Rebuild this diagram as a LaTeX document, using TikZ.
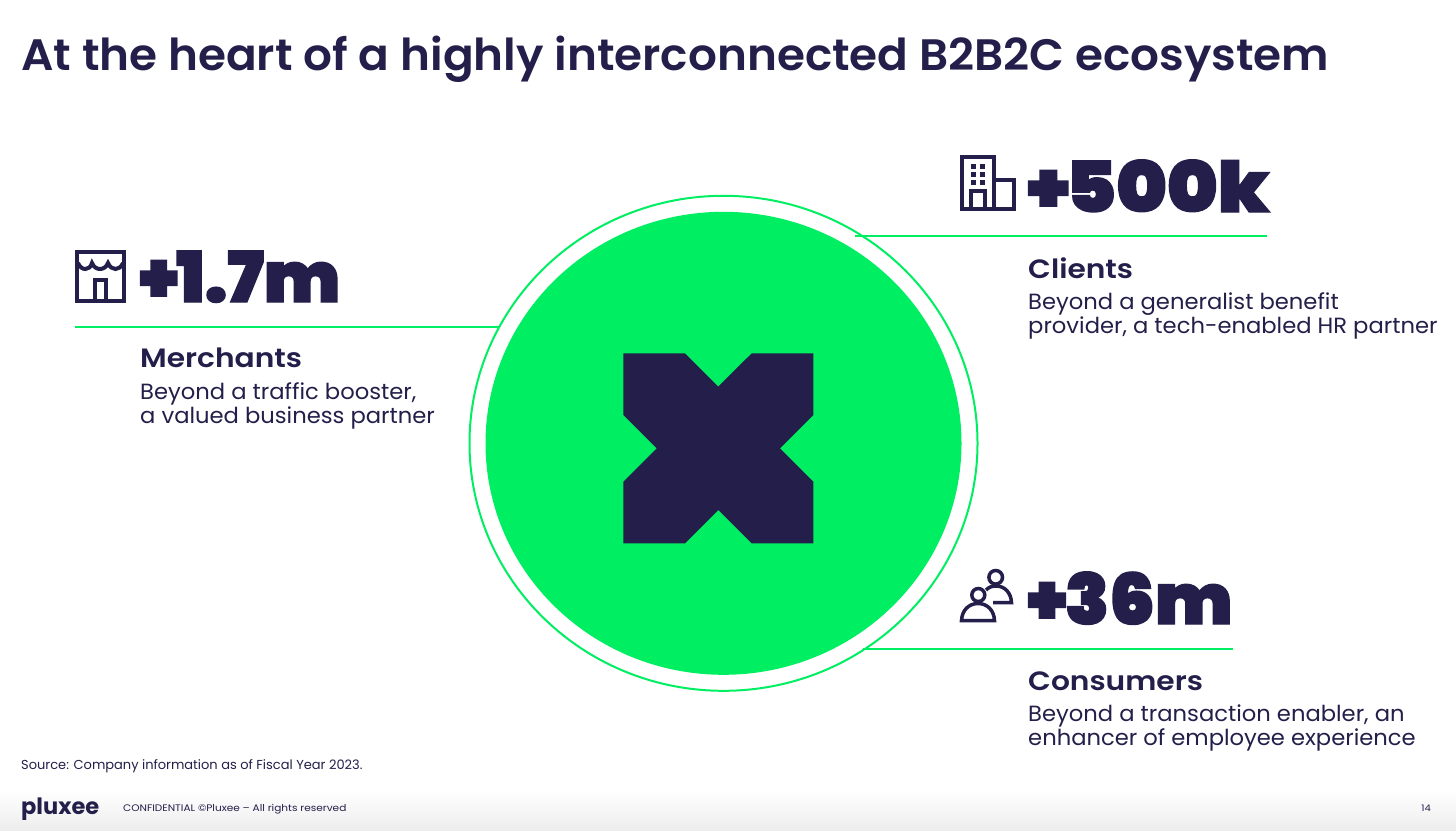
\documentclass[tikz,border=0pt]{standalone}
\usepackage{fontspec}
\setmainfont{Poppins}
\newfontfamily\pop[FakeStretch=1.03]{Poppins}
\newfontfamily\popsrc[FakeStretch=1.0]{Poppins}
\newfontfamily\popconf[FakeStretch=1.11]{Poppins}
\newfontfamily\poptitle[FakeStretch=1.03]{Poppins SemiBold}
\newfontfamily\pophead[FakeStretch=1.12]{Poppins SemiBold}
\newfontfamily\poplogo{Poppins}
\newfontfamily\bigf[FakeBold=2]{Poppins Black}
\definecolor{navy}{HTML}{231F4A}
\definecolor{grn}{HTML}{00EF62}
\tikzset{x=1pt,y=-1pt,
 lbl/.style={anchor=base west,inner sep=0pt,text=navy,font=\pop\fontsize{22}{26}\selectfont,align=left},
 head/.style={anchor=base west,inner sep=0pt,text=navy,font=\pophead\fontsize{26.5}{30}\selectfont},
 num/.style={anchor=base west,inner sep=0pt,text=navy,font=\bigf\fontsize{70}{74}\selectfont},
 rule/.style={draw=grn,line width=2pt},
 ico/.style={draw=navy,line width=4pt}}
\begin{document}
\begin{tikzpicture}
\useasboundingbox (0,0) rectangle (1456,830);
\fill[white] (0,0) rectangle (1456,830);
\shade[top color=white,bottom color=black!7] (0,790) rectangle (1456,830);
\node[anchor=base west,inner sep=0pt,text=navy,font=\poptitle\fontsize{44}{50}\selectfont] (title) at (21,70) {At the heart of a highly interconnected B2B2C ecosystem};
% circle
\coordinate (c) at (723.5,443.3);
\draw[grn,line width=2pt] (c) ellipse [x radius=254,y radius=247.5];
\fill[grn] (c) ellipse [x radius=238,y radius=231.5];
\fill[navy] (623.3,353.3)--(685,353.3)--(718.3,386.6)--(751.7,353.3)--(813.3,353.3)--(813.3,415)--(780,448.3)--(813.3,481.7)--(813.3,543.3)--(751.7,543.3)--(718.3,510)--(685,543.3)--(623.3,543.3)--(623.3,481.7)--(656.7,448.3)--(623.3,415)--cycle;
% rules
\draw[rule] (75,326.5)--(499,326.5);
\draw[rule] (855,236)--(1267,236);
\draw[rule] (863,648.5)--(1233,648.5);
% numbers
\node[num] (n1) at (139,302) {\scalebox{1.015}[1]{+\kern-2pt 1.7m}};
\node[num] (n2) at (1027,212) {\scalebox{1.095}[1]{+\kern-3.5pt 500k}};
\node[num] (n3) at (1027,624) {\scalebox{1.03}[1]{+\kern-2pt 36m}};
% text
\node[head] (h1) at (140,367) {Merchants};
\node[lbl] (t1) at (140,399) {Beyond a traffic booster,};
\node[lbl] (t1b) at (140,423) {a valued business partner};
\node[head] (h2) at (1028,278) {Clients};
\node[lbl] (t2) at (1028,309) {Beyond a generalist benefit};
\node[lbl] (t2b) at (1028,333) {provider, a tech-enabled HR partner};
\node[head] (h3) at (1028,690) {Consumers};
\node[lbl] (t3) at (1028,721) {Beyond a transaction enabler, an};
\node[lbl] (t3b) at (1028,745) {enhancer of employee experience};
% footer
\node[anchor=base west,inner sep=0pt,text=navy,font=\popsrc\fontsize{13}{15}\selectfont] (src) at (21,769) {Source: Company information as of Fiscal Year 2023.};
\node[anchor=base west,inner sep=0pt,text=navy,font=\poplogo\bfseries\fontsize{22.5}{25}\selectfont] (logo) at (21,814) {pluxee};
\node[anchor=base west,inner sep=0pt,text=navy,font=\popconf\fontsize{9.5}{11}\selectfont] (conf) at (123,811) {CONFIDENTIAL ©Pluxee – All rights reserved};
\node[anchor=base east,inner sep=0pt,text=navy,font=\popconf\fontsize{9}{11}\selectfont] (pg) at (1431,811) {14};
% building icon
\begin{scope}[ico]
\draw (962,157) rectangle (994,209);
\draw (994,180) rectangle (1013.7,209);
\draw (971,209)--(971,191)--(985,191)--(985,209);
\end{scope}
\foreach \x in {971,980}\foreach \y in {164,172,180}{\fill[navy] (\x,\y) rectangle ++(5,5);}
% shop icon
\begin{scope}[ico]
\draw (77,252) rectangle (123.5,300.5);
\draw (78,263) .. controls (81,271) and (90,271) .. (92,263) .. controls (95,271) and (105,271) .. (108,263) .. controls (111,271) and (120,271) .. (123,263);
\draw (95,300)--(95,280)--(106,280)--(106,300);
\end{scope}
% people icon
\begin{scope}[ico,line width=3.5pt]
\draw (995.7,577.3) circle (6.8);
\draw (986,590) .. controls (989,587) and (992,586) .. (996,586) .. controls (1005,586) and (1011,593) .. (1011.5,602.5) -- (993,602.5);
\draw[fill=white] (978.3,595) circle (6.5);
\draw[fill=white] (961.5,620.5) .. controls (962,610) and (969,603.5) .. (978,603.5) .. controls (987,603.5) and (994,610) .. (994.5,620.5) -- cycle;
\end{scope}
\end{tikzpicture}
\end{document}
